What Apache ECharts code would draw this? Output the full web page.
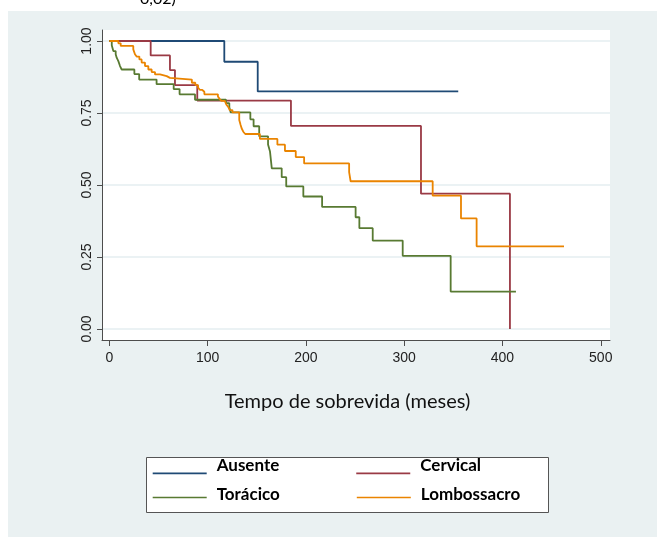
<!DOCTYPE html>
<html><head><meta charset="utf-8">
<script src="https://cdn.jsdelivr.net/npm/echarts@6/dist/echarts.min.js"></script>
<style>html,body{margin:0;padding:0;background:#fff}#c{width:664px;height:537px}</style>
</head><body><div id="c"></div>
<script>
const seriesNames = ['Ausente', 'Cervical', 'Torácico', 'Lombossacro'];
const ausenteTime = [0, 117, 151, 355];
const ausenteSurv = [1, 0.928, 0.825, 0.825];
const cervicalTime = [0, 42.1, 61.7, 66.8, 89.5, 184.8, 317.1, 407.6];
const cervicalSurv = [1, 0.95, 0.899, 0.847, 0.793, 0.705, 0.470, 0];
const toracicoTime = [0, 2.5, 4.1, 6.5, 7.5, 9.2, 10.9, 12.6, 25.5, 30.4, 48.1, 65.5, 71.5, 87.2, 118.7, 122.1, 123.5, 143.5, 146.8, 152.5, 161.5, 163.5, 165.3, 175.4, 180.0, 197.4, 216.5, 250.6, 254.4, 268.0, 298.5, 347.3, 413.7];
const toracicoSurv = [1, 0.985, 0.965, 0.954, 0.942, 0.930, 0.913, 0.901, 0.885, 0.866, 0.850, 0.833, 0.815, 0.796, 0.784, 0.770, 0.752, 0.728, 0.704, 0.669, 0.641, 0.616, 0.558, 0.527, 0.495, 0.460, 0.424, 0.388, 0.350, 0.307, 0.254, 0.130, 0.130];
const lombTime = [0, 9.2, 11.6, 24.4, 26.1, 27.8, 30.6, 32.9, 36.3, 39.7, 43.1, 46.5, 51.6, 58.4, 61.7, 84.0, 87.5, 90.3, 92.3, 94.6, 96.7, 110.5, 112.2, 114.0, 117.5, 119.0, 121.0, 122.5, 125.3, 132.2, 133.6, 134.6, 136.3, 138.3, 153.2, 171.0, 178.7, 189.7, 198.2, 244.0, 245.5, 329.0, 357.8, 373.7, 462.6];
const lombSurv = [1, 0.992, 0.983, 0.971, 0.954, 0.946, 0.936, 0.925, 0.913, 0.901, 0.892, 0.884, 0.878, 0.872, 0.866, 0.855, 0.847, 0.838, 0.830, 0.824, 0.815, 0.807, 0.799, 0.792, 0.787, 0.780, 0.771, 0.760, 0.752, 0.726, 0.708, 0.697, 0.685, 0.677, 0.660, 0.640, 0.618, 0.597, 0.575, 0.545, 0.513, 0.463, 0.384, 0.287, 0.287];
const xTicks = [0, 100, 200, 300, 400, 500];
const yTicks = [0, 0.25, 0.5, 0.75, 1];
const colors = ['#1f4a75', '#9a3a45', '#587a32', '#ea8400'];

function pairs(t, s) { return t.map((x, i) => [x, s[i]]); }
const dataSets = [pairs(ausenteTime, ausenteSurv), pairs(cervicalTime, cervicalSurv), pairs(toracicoTime, toracicoSurv), pairs(lombTime, lombSurv)];

const chart = echarts.init(document.getElementById('c'), null, {renderer: 'canvas'});
const axisColor = '#4d4d4d';
const legendText = {fontFamily: 'Lato', fontWeight: 'bold', fontSize: 17, color: '#000', padding: [0, 0, 0, 5]};
chart.setOption({
  animation: false,
  backgroundColor: '#ffffff',
  graphic: [
    {type: 'rect', z: -10, silent: true, shape: {x: 8, y: 11, width: 649, height: 526}, style: {fill: '#eaf1f2'}},
    {type: 'rect', z: -5, silent: true, shape: {x: 146.5, y: 457.5, width: 402, height: 55}, style: {fill: '#ffffff', stroke: '#555555', lineWidth: 1}},
    {type: 'text', x: 140, y: 7, silent: true, style: {text: '0,02)', font: '16px Lato', fill: '#000', verticalAlign: 'bottom'}}
  ],
  grid: {left: 102, right: 54, top: 30, bottom: 197, show: true, backgroundColor: '#ffffff', borderWidth: 0},
  xAxis: {
    type: 'value', min: -7.43, max: 509.4,
    axisLine: {show: true, onZero: false, lineStyle: {color: axisColor, width: 1}},
    axisTick: {show: true, length: 6, customValues: xTicks, lineStyle: {color: axisColor}},
    axisLabel: {customValues: xTicks, margin: 11, fontSize: 14, color: '#222', fontFamily: 'Liberation Sans'},
    splitLine: {show: false},
    name: 'Tempo de sobrevida (meses)', nameLocation: 'middle', nameGap: 52,
    nameTextStyle: {fontSize: 20, fontFamily: 'Lato', color: '#111', padding: [0, 17, 0, 0]}
  },
  yAxis: {
    type: 'value', min: -0.0382, max: 1.0382,
    axisLine: {show: true, onZero: false, lineStyle: {color: axisColor, width: 1}},
    axisTick: {show: true, length: 5, customValues: yTicks, lineStyle: {color: axisColor}},
    axisLabel: {customValues: yTicks, rotate: 90, margin: 8, fontSize: 14, color: '#222', fontFamily: 'Liberation Sans', formatter: v => v.toFixed(2)},
    splitLine: {show: true, lineStyle: {color: '#e4eef0', width: 1.5}}
  },
  legend: [
    {data: ['Ausente', 'Cervical'], orient: 'horizontal', left: 152.7, top: 457.5, padding: 0,
     icon: 'path://M0,-14.8 M0,0 H54 V1.6 H0 Z', itemWidth: 54, itemHeight: 16.4, itemGap: 77, textStyle: legendText},
    {data: ['Torácico', 'Lombossacro'], orient: 'horizontal', left: 152.7, top: 485.7, padding: 0,
     icon: 'path://M0,-6.6 M0,0 H54 V1.6 H0 Z', itemWidth: 54, itemHeight: 8.2, itemGap: 77, textStyle: legendText}
  ],
  series: seriesNames.map((n, i) => ({
    name: n, type: 'line', step: 'end', symbol: 'none', showSymbol: false,
    data: dataSets[i], color: colors[i],
    lineStyle: {color: colors[i], width: 1.8}
  }))
});
</script></body></html>
